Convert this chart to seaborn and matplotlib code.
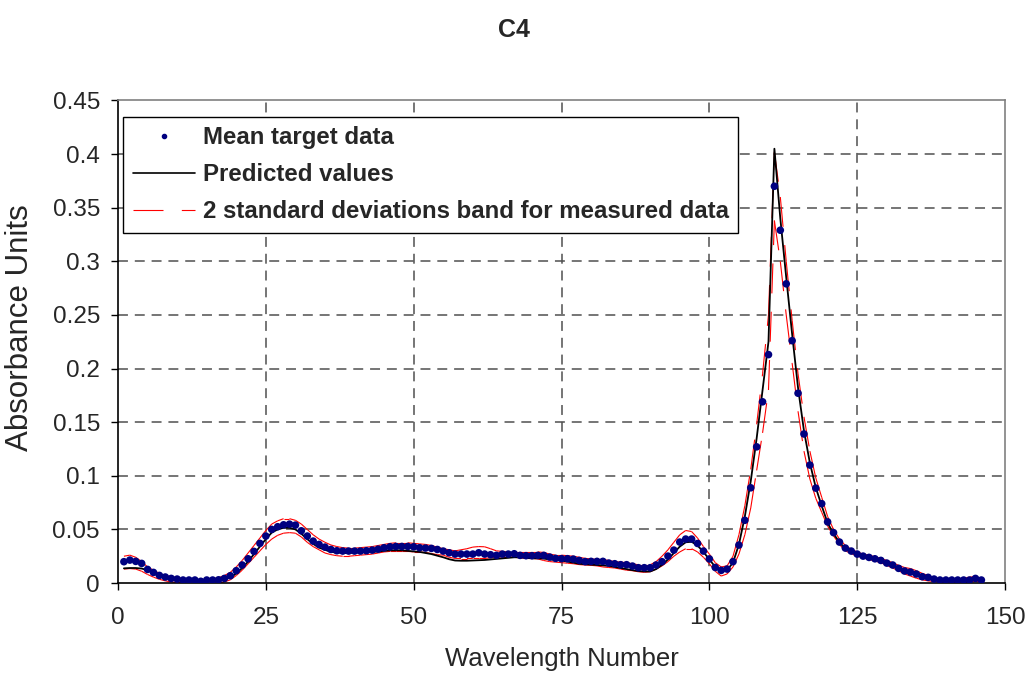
import numpy as np
import matplotlib
matplotlib.use("Agg")
import matplotlib.pyplot as plt
import seaborn as sns
import pandas as pd
from matplotlib.collections import LineCollection
from matplotlib.lines import Line2D

wavelength = list(range(1, 147))

mean_target = [
    0.0199, 0.0214, 0.0202, 0.0183, 0.0127, 0.0099, 0.0071, 0.0056, 0.0043, 0.0037,
    0.0028, 0.0028, 0.0028, 0.0016, 0.0028, 0.0028, 0.0030, 0.0043, 0.0068, 0.0115,
    0.0168, 0.0226, 0.0295, 0.0370, 0.0438, 0.0500, 0.0525, 0.0543, 0.0549, 0.0540,
    0.0487, 0.0438, 0.0391, 0.0360, 0.0335, 0.0313, 0.0301, 0.0298, 0.0298, 0.0298,
    0.0298, 0.0301, 0.0307, 0.0316, 0.0329, 0.0338, 0.0341, 0.0341, 0.0341, 0.0338,
    0.0329, 0.0326, 0.0323, 0.0313, 0.0298, 0.0282, 0.0270, 0.0270, 0.0270, 0.0270,
    0.0282, 0.0270, 0.0264, 0.0258, 0.0270, 0.0270, 0.0273, 0.0258, 0.0255, 0.0255,
    0.0258, 0.0258, 0.0242, 0.0230, 0.0227, 0.0227, 0.0223, 0.0211, 0.0200, 0.0202,
    0.0202, 0.0202, 0.0186, 0.0180, 0.0171, 0.0171, 0.0158, 0.0143, 0.0143, 0.0143,
    0.0168, 0.0199, 0.0251, 0.0307, 0.0382, 0.0410, 0.0410, 0.0369, 0.0298, 0.0225,
    0.0145, 0.0118, 0.0130, 0.0199, 0.0354, 0.0585, 0.0888, 0.127, 0.169, 0.213,
    0.370, 0.329, 0.279, 0.226, 0.177, 0.139, 0.110, 0.0885, 0.074, 0.057,
    0.047, 0.0382, 0.0326, 0.0298, 0.0270, 0.0251, 0.0239, 0.0226, 0.0211, 0.0186,
    0.0168, 0.0137, 0.0112, 0.0102, 0.0084, 0.0059, 0.0053, 0.0037, 0.0028, 0.0028,
    0.0028, 0.0028, 0.0028, 0.0028, 0.0043, 0.0028,
]

predicted = [
    0.0137, 0.0140, 0.0140, 0.0135, 0.0120, 0.0090, 0.0065, 0.0050, 0.0040, 0.0030,
    0.0025, 0.0020, 0.0020, 0.0015, 0.0020, 0.0020, 0.0025, 0.0035, 0.0050, 0.0090,
    0.0140, 0.0200, 0.0270, 0.0340, 0.0410, 0.0470, 0.0500, 0.0515, 0.0515, 0.0500,
    0.0460, 0.0410, 0.0365, 0.0330, 0.0310, 0.0290, 0.0285, 0.0280, 0.0280, 0.0282,
    0.0285, 0.0290, 0.0290, 0.0295, 0.0300, 0.0305, 0.0305, 0.0305, 0.0300, 0.0295,
    0.0290, 0.0280, 0.0270, 0.0255, 0.0240, 0.0222, 0.0210, 0.0208, 0.0208, 0.0210,
    0.0212, 0.0215, 0.0220, 0.0225, 0.0230, 0.0235, 0.0240, 0.0240, 0.0235, 0.0230,
    0.0230, 0.0228, 0.0220, 0.0215, 0.0210, 0.0200, 0.0190, 0.0180, 0.0175, 0.0172,
    0.0170, 0.0165, 0.0160, 0.0150, 0.0140, 0.0130, 0.0120, 0.0112, 0.0108, 0.0108,
    0.0130, 0.0170, 0.0220, 0.0280, 0.0340, 0.0380, 0.0385, 0.0350, 0.0290, 0.0220,
    0.0150, 0.0110, 0.0120, 0.0190, 0.0360, 0.0620, 0.0950, 0.135, 0.180, 0.225,
    0.405, 0.340, 0.285, 0.232, 0.182, 0.142, 0.112, 0.089, 0.072, 0.056,
    0.046, 0.038, 0.032, 0.029, 0.0265, 0.0250, 0.0235, 0.0220, 0.0205, 0.0180,
    0.0160, 0.0130, 0.0105, 0.0090, 0.0070, 0.0050, 0.0040, 0.0030, 0.0025, 0.0020,
    0.0020, 0.0020, 0.0020, 0.0025, 0.0030, 0.0025,
]

band_upper = [
    0.025, 0.026, 0.024, 0.020, 0.015, 0.012, 0.009, 0.007, 0.006, 0.005,
    0.004, 0.004, 0.0035, 0.003, 0.0035, 0.004, 0.005, 0.007, 0.010, 0.015,
    0.021, 0.028, 0.035, 0.042, 0.049, 0.055, 0.058, 0.060, 0.060, 0.0585,
    0.055, 0.050, 0.045, 0.041, 0.038, 0.0355, 0.034, 0.033, 0.0325, 0.0325,
    0.033, 0.0335, 0.034, 0.035, 0.036, 0.037, 0.0375, 0.0375, 0.0375, 0.037,
    0.0365, 0.036, 0.035, 0.0335, 0.032, 0.031, 0.030, 0.031, 0.032, 0.0335,
    0.034, 0.0338, 0.032, 0.030, 0.0295, 0.029, 0.029, 0.029, 0.029, 0.029,
    0.029, 0.0285, 0.027, 0.026, 0.026, 0.0255, 0.025, 0.024, 0.023, 0.0225,
    0.022, 0.022, 0.021, 0.020, 0.0195, 0.019, 0.018, 0.017, 0.017, 0.017,
    0.020, 0.025, 0.031, 0.038, 0.045, 0.049, 0.048, 0.042, 0.034, 0.027,
    0.019, 0.015, 0.016, 0.025, 0.045, 0.072, 0.106, 0.148, 0.195, 0.250,
    0.402, 0.360, 0.300, 0.245, 0.195, 0.155, 0.123, 0.098, 0.080, 0.062,
    0.050, 0.041, 0.035, 0.0315, 0.029, 0.027, 0.026, 0.0245, 0.023, 0.021,
    0.019, 0.0165, 0.0145, 0.0135, 0.0115, 0.009, 0.007, 0.005, 0.004, 0.004,
    0.004, 0.004, 0.0045, 0.0055, 0.006, 0.0045,
]

band_lower = [
    0.013, 0.0135, 0.013, 0.011, 0.008, 0.0055, 0.0035, 0.002, 0.001, 0.0005,
    0.0, -0.0003, -0.0005, -0.0008, -0.0008, -0.0005, 0.0, 0.001, 0.003, 0.007,
    0.012, 0.018, 0.024, 0.030, 0.036, 0.041, 0.0445, 0.0465, 0.047, 0.0465,
    0.043, 0.038, 0.034, 0.031, 0.028, 0.0265, 0.0255, 0.025, 0.025, 0.0255,
    0.026, 0.0265, 0.027, 0.028, 0.029, 0.0295, 0.0295, 0.0295, 0.0295, 0.029,
    0.029, 0.0285, 0.0275, 0.0265, 0.026, 0.024, 0.023, 0.0228, 0.0228, 0.023,
    0.023, 0.023, 0.0235, 0.024, 0.0245, 0.0245, 0.024, 0.0235, 0.023, 0.023,
    0.0225, 0.021, 0.020, 0.0195, 0.019, 0.0185, 0.018, 0.0172, 0.0168, 0.0165,
    0.016, 0.015, 0.0145, 0.014, 0.013, 0.012, 0.0115, 0.0105, 0.010, 0.0105,
    0.013, 0.016, 0.020, 0.025, 0.029, 0.032, 0.032, 0.029, 0.024, 0.018,
    0.011, 0.0065, 0.0085, 0.015, 0.027, 0.045, 0.070, 0.105, 0.140, 0.180,
    0.338, 0.300, 0.250, 0.205, 0.160, 0.123, 0.097, 0.079, 0.066, 0.053,
    0.044, 0.036, 0.030, 0.0275, 0.025, 0.0235, 0.022, 0.0205, 0.019, 0.0165,
    0.014, 0.0115, 0.0085, 0.0065, 0.0045, 0.003, 0.002, 0.0015, 0.001, 0.001,
    0.0008, 0.0008, 0.001, 0.001, 0.0015, 0.0015,
]

df = pd.DataFrame({
    "wavelength": wavelength,
    "mean": mean_target,
    "predicted": predicted,
})

sns.set_style("white")
plt.rcParams["font.family"] = ["Liberation Sans", "DejaVu Sans"]

fig = plt.figure(figsize=(10.27, 6.77), dpi=100)
ax = fig.add_axes([0.1149, 0.1388, 0.8637, 0.7128])

# grid first so data sits on top
for gx in [25, 50, 75, 100, 125]:
    ax.axvline(gx, color="#505050", lw=1.1, ls=(0, (6.5, 4.5)), zorder=0)
for gy in [0.05, 0.1, 0.15, 0.2, 0.25, 0.3, 0.35, 0.4]:
    ax.axhline(gy, color="#505050", lw=1.1, ls=(0, (6.5, 4.5)), zorder=0)

# band lines: each segment restarts its dash pattern (Excel style)
red_dash = (0, (27, 16.5))
for band in [band_upper, band_lower]:
    pts = np.column_stack([wavelength, band])
    segs = np.stack([pts[:-1], pts[1:]], axis=1)
    lc = LineCollection(segs, colors="red", linewidths=0.8, zorder=2)
    lc.set_linestyle(red_dash)
    ax.add_collection(lc)

sns.lineplot(data=df, x="wavelength", y="predicted", ax=ax, color="black",
             lw=1.3, zorder=3, legend=False)
sns.scatterplot(data=df, x="wavelength", y="mean", ax=ax, color="#000080",
                s=30, edgecolor="none", zorder=4, legend=False)

ax.set_xlim(0, 150)
ax.set_ylim(0, 0.45)
ax.set_xticks([0, 25, 50, 75, 100, 125, 150])
ax.set_yticks([0, 0.05, 0.1, 0.15, 0.2, 0.25, 0.3, 0.35, 0.4, 0.45])
ax.set_yticklabels(["0", "0.05", "0.1", "0.15", "0.2", "0.25", "0.3", "0.35", "0.4", "0.45"])
ax.tick_params(axis="both", labelsize=17.5, direction="out", length=5, width=1,
               color="black", bottom=True, left=True)
ax.tick_params(axis="x", pad=12)
ax.tick_params(axis="y", pad=8)

for side in ["top", "right"]:
    ax.spines[side].set_color("#808080")
    ax.spines[side].set_linewidth(1.2)
for side in ["bottom", "left"]:
    ax.spines[side].set_color("black")
    ax.spines[side].set_linewidth(1.2)

ax.set_xlabel("Wavelength Number", fontsize=18.5)
ax.set_ylabel("Absorbance Units", fontsize=22.5)
ax.xaxis.set_label_coords(0.5, -0.132)
ax.yaxis.set_label_coords(-0.094, 0.53)
fig.text(0.5, 0.955, "C4", ha="center", va="center", fontsize=18, fontweight="bold")

handles = [
    Line2D([], [], marker="o", color="#000080", ls="none", markersize=3),
    Line2D([], [], color="black", lw=1.2),
    Line2D([], [], color="red", lw=0.8, ls=(0, (27, 16.5))),
]
labels = ["Mean target data", "Predicted values",
          "2 standard deviations band for measured data"]
leg = ax.legend(handles, labels, loc="upper left", bbox_to_anchor=(0.006, 0.966),
                prop={"weight": "bold", "size": 17.3}, frameon=True, fancybox=False,
                edgecolor="black", framealpha=1, handlelength=2.6, handletextpad=0.3,
                labelspacing=0.58, borderpad=0.4, borderaxespad=0)
leg.get_frame().set_linewidth(1.0)

fig.savefig("out.png", dpi=100)
